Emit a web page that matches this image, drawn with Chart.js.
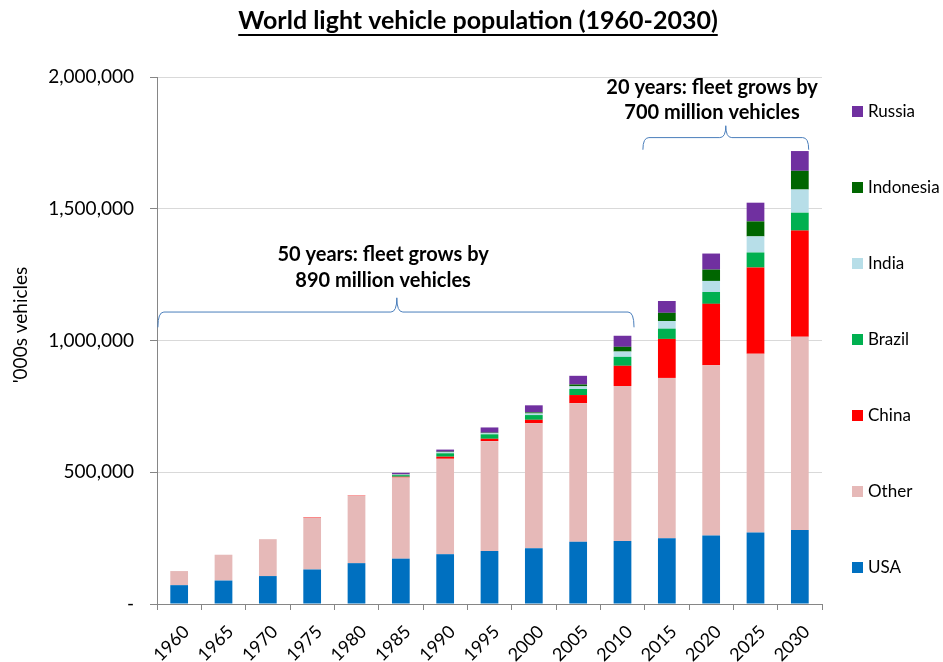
<!DOCTYPE html>
<html>
<head>
<meta charset="utf-8">
<title>World light vehicle population</title>
<script src="https://cdn.jsdelivr.net/npm/chart.js@4.4.1/dist/chart.umd.min.js"></script>
<style>
  html, body { margin: 0; padding: 0; background: #fff; }
  #wrap { width: 943px; height: 662px; }
</style>
</head>
<body>
<div id="wrap"><canvas id="fleetChart" width="943" height="662"></canvas></div>
<script>
// '000s of light vehicles by region (2015 onward are projections)
const years = ['1960', '1965', '1970', '1975', '1980', '1985', '1990', '1995',
               '2000', '2005', '2010', '2015', '2020', '2025', '2030'];
const usa       = [71500, 89000, 106000, 131000, 155000, 172000, 189000, 201000, 212000, 236000, 239000, 250000, 260000, 271000, 281000];
const other     = [53500, 98000, 140000, 196000, 256000, 308000, 362000, 417000, 474000, 526000, 588000, 608000, 646000, 679000, 733000];
const china     = [0, 0, 0, 2000, 1500, 3000, 8000, 9000, 13000, 31000, 77000, 148000, 233000, 327000, 403000];
const brazil    = [0, 0, 0, 0, 0, 6000, 13000, 17000, 18000, 23000, 34000, 39000, 45000, 57000, 68000];
const india     = [0, 0, 0, 0, 0, 2000, 4000, 4000, 6000, 10000, 20000, 29000, 42000, 61000, 88000];
const indonesia = [0, 0, 0, 0, 0, 1000, 2000, 2000, 4000, 7000, 18000, 31000, 43000, 57000, 71000];
const russia    = [0, 0, 0, 0, 0, 6000, 8000, 20000, 27000, 33000, 42000, 45000, 61000, 71000, 75000];

const yMax = 2000000;
const yStep = 500000;

const FONT = 'Lato, "Open Sans", sans-serif';
Chart.defaults.font.family = FONT;
Chart.defaults.color = '#000';

// curly brace over a run of bars
function drawBrace(ctx, x0, x1, xt, yEnd, yLine, yTip) {
  const r = 6;
  ctx.beginPath();
  ctx.moveTo(x0, yEnd);
  ctx.quadraticCurveTo(x0, yLine, x0 + r, yLine);
  ctx.lineTo(xt - r, yLine);
  ctx.quadraticCurveTo(xt, yLine, xt, yTip);
  ctx.quadraticCurveTo(xt, yLine, xt + r, yLine);
  ctx.lineTo(x1 - r, yLine);
  ctx.quadraticCurveTo(x1, yLine, x1, yEnd);
  ctx.stroke();
}

const overlay = {
  id: 'overlay',
  afterDraw(chart) {
    const { ctx, scales: { x, y } } = chart;
    ctx.save();

    // title, underlined
    const title = 'World light vehicle population (1960-2030)';
    ctx.font = 'bold 25px ' + FONT;
    ctx.fillStyle = '#000';
    ctx.textAlign = 'center';
    ctx.textBaseline = 'middle';
    const cx = 478;
    ctx.fillText(title, cx, 21);
    const tw = ctx.measureText(title).width;
    ctx.fillRect(cx - tw / 2, 34, tw, 2);

    // y axis title
    ctx.save();
    ctx.translate(21, 325);
    ctx.rotate(-Math.PI / 2);
    ctx.font = '19px ' + FONT;
    ctx.fillText("'000s vehicles", 0, 0);
    ctx.restore();

    // growth annotations
    ctx.strokeStyle = '#4a7ebb';
    ctx.lineWidth = 1;
    drawBrace(ctx, x.getPixelForValue(-0.48), x.getPixelForValue(10.26), x.getPixelForValue(4.91),
      y.getPixelForValue(1050000), y.getPixelForValue(1108000), y.getPixelForValue(1162000));
    drawBrace(ctx, x.getPixelForValue(10.46), x.getPixelForValue(14.2), x.getPixelForValue(12.33),
      y.getPixelForValue(1724000), y.getPixelForValue(1770000), y.getPixelForValue(1815000));

    ctx.font = 'bold 20px ' + FONT;
    ctx.fillText('50 years: fleet grows by', x.getPixelForValue(4.6), y.getPixelForValue(1325000));
    ctx.fillText('890 million vehicles', x.getPixelForValue(4.6), y.getPixelForValue(1226000));
    ctx.fillText('20 years: fleet grows by', x.getPixelForValue(12.02), y.getPixelForValue(1960000));
    ctx.fillText('700 million vehicles', x.getPixelForValue(12.02), y.getPixelForValue(1865000));

    // legend, top series first
    ctx.font = '17px ' + FONT;
    ctx.textAlign = 'left';
    const sets = chart.data.datasets.slice().reverse();
    sets.forEach((ds, i) => {
      const ly = 111 + i * 76;
      ctx.fillStyle = ds.backgroundColor;
      ctx.fillRect(852, ly - 5, 11, 11);
      ctx.fillStyle = '#000';
      ctx.fillText(ds.label, 868, ly + 1);
    });
    ctx.restore();
  }
};

new Chart(document.getElementById('fleetChart'), {
  type: 'bar',
  data: {
    labels: years,
    datasets: [
      { label: 'USA', data: usa, backgroundColor: '#0070c0' },
      { label: 'Other', data: other, backgroundColor: '#e6b9b8' },
      { label: 'China', data: china, backgroundColor: '#ff0000' },
      { label: 'Brazil', data: brazil, backgroundColor: '#00b050' },
      { label: 'India', data: india, backgroundColor: '#b7dee8' },
      { label: 'Indonesia', data: indonesia, backgroundColor: '#006600' },
      { label: 'Russia', data: russia, backgroundColor: '#7030a0' }
    ]
  },
  options: {
    responsive: false,
    animation: false,
    datasets: { bar: { barPercentage: 0.4, categoryPercentage: 1.0 } },
    layout: { padding: { top: 77, right: 121, bottom: 0, left: 0 } },
    plugins: { legend: { display: false }, tooltip: { enabled: false } },
    scales: {
      x: {
        stacked: true,
        grid: { drawOnChartArea: false, offset: true, tickLength: 6, color: '#868686' },
        border: { color: '#868686' },
        ticks: { minRotation: 45, maxRotation: 45, padding: 11, labelOffset: 7, font: { size: 18 }, color: '#000' },
        afterFit(s) { s.height = 58; }
      },
      y: {
        stacked: true,
        min: 0,
        max: yMax,
        ticks: {
          stepSize: yStep,
          padding: 16,
          font: { size: 19 },
          color: '#000',
          callback: v => v === 0 ? '-' : v.toLocaleString('en-US')
        },
        grid: { color: '#d9d9d9', tickColor: '#868686', tickLength: 7 },
        border: { color: '#868686' },
        afterFit(s) { s.width = 157; }
      }
    }
  },
  plugins: [overlay]
});
</script>
</body>
</html>
